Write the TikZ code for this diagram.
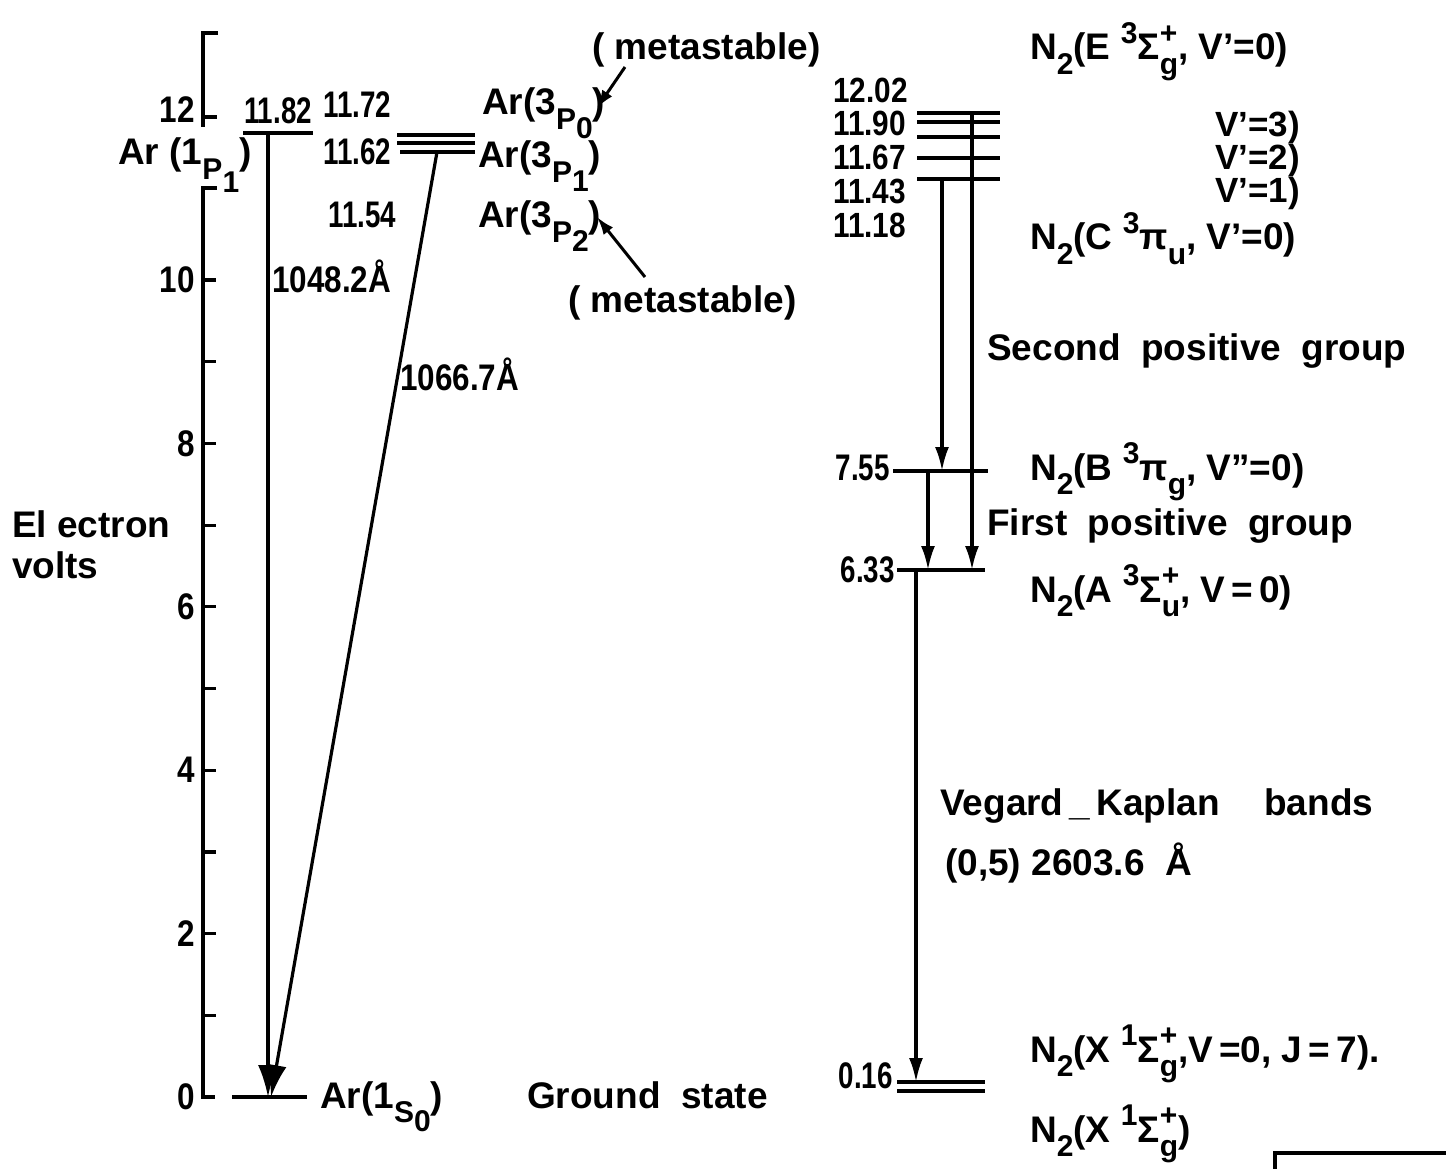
\documentclass[tikz,border=0pt]{standalone}
\usepackage{fontspec}
\setmainfont{Liberation Sans}
\newfontfamily\nf[FakeStretch=0.75]{Liberation Sans}
\newfontfamily\nfw[FakeStretch=0.85]{Liberation Sans}
\usetikzlibrary{arrows.meta}
\newcommand{\sz}{\fontsize{37}{42}\selectfont}
\newcommand{\smz}{\fontsize{30}{32}\selectfont}
\newcommand{\stz}{\fontsize{35}{36}\selectfont}
\newcommand{\lo}[1]{\raisebox{-0.4em}{\smz #1}}
\newcommand{\hi}[1]{\raisebox{0.45em}{\smz #1}}
\newcommand{\hilo}[2]{\makebox[0pt][l]{\hi{#1}}\lo{#2}}
\tikzset{
  lvl/.style={line width=3.6pt},
  ax/.style={line width=3.2pt},
  trb/.style={line width=3.2pt, -{Latex[length=32pt,width=20pt]}},
  tr/.style={line width=3.2pt, -{Latex[length=24pt,width=14pt]}},
  tra/.style={line width=3pt, -{Latex[length=18pt,width=12pt]}},
  txt/.style={inner sep=0pt, font=\bfseries\sz},
  num/.style={inner sep=0pt, font=\nf\bfseries\sz},
  nums/.style={inner sep=0pt, font=\nfw\bfseries\stz},
  numw/.style={inner sep=0pt, font=\nfw\bfseries\sz},
}
\begin{document}
\begin{tikzpicture}[x=1pt,y=-1pt]
\useasboundingbox (0,0) rectangle (1446,1169);
% axis
\draw[ax] (218,33) -- (203,33) -- (203,127);
\draw[ax] (203,117) -- (217,117);
\draw[ax] (217,188) -- (203,188) -- (203,1097) -- (215,1097);
\foreach \v in {1,...,10} \draw[ax] (203,{1097-81.7*\v}) -- (216,{1097-81.7*\v});
\foreach \v/\n in {0/a0,2/a2,4/a4,6/a6,8/a8,10/a10}
  \node[numw, anchor=east] (\n) at (195,{1097-81.7*\v}) {\v};
\node[numw, anchor=east] (a12) at (195,110) {12};
\node[txt, anchor=base west] (ev1) at (12,537) {El ectron};
\node[txt, anchor=base west] (ev2) at (12,578) {volts};
% Ar levels
\coordinate (p1l) at (243,133); \coordinate (p1r) at (313,133);
\draw[lvl] (p1l) -- (p1r);
\coordinate (g0l) at (232,1097); \coordinate (g0r) at (307,1097);
\draw[lvl] (g0l) -- (g0r);
\draw[lvl] (397,135) -- (475,135);
\draw[lvl] (397,143) -- (475,143);
\draw[lvl] (400,152) -- (475,152);
\coordinate (p1s) at (268,133); \coordinate (g0a) at (268,1097);
\coordinate (p3s) at (437,152); \coordinate (g0b) at (271,1097);
\draw[trb] (p1s) -- (g0a);
\draw[trb] (p3s) -- (g0b);
\node[txt, anchor=base west] (ar1p) at (118,165) {Ar (1\lo{P}\raisebox{-0.75em}{\smz 1})};
\node[num, anchor=base] (v1182) at (278,124) {11.82};
\node[num, anchor=base west] (v1172) at (323,118) {11.72};
\node[num, anchor=base west] (v1162) at (323,165) {11.62};
\node[num, anchor=base west] (v1154) at (328,228) {11.54};
\node[numw, anchor=base west] (w1) at (272,292) {1048.2Å};
\node[numw, anchor=base west] (w2) at (400,390) {1066.7Å};
\node[txt, anchor=base west] (ar3p0) at (482,115) {Ar(3\lo{P\raisebox{-0.3em}{0}})};
\node[txt, anchor=base west] (ar3p1) at (478,168) {Ar(3\lo{P\raisebox{-0.3em}{1}})};
\node[txt, anchor=base west] (ar3p2) at (478,228) {Ar(3\lo{P\raisebox{-0.3em}{2}})};
\node[txt, anchor=base west] (ms1) at (592,60) {( metastable)};
\node[txt, anchor=base west] (ms2) at (568,312) {( metastable)};
\coordinate (m1t) at (625,67); \coordinate (m1h) at (597,108);
\coordinate (m2t) at (645,277); \coordinate (m2h) at (597,217);
\draw[tra] (m1t) -- (m1h);
\draw[tra] (m2t) -- (m2h);
\node[txt, anchor=base west] (ar1s) at (320,1108) {Ar(1\lo{S\raisebox{-0.3em}{0}})};
\node[txt, anchor=base west] (gs) at (527,1108) {Ground\ \ state};
% N2 levels
\foreach \y in {113,122,137,158,179} \draw[lvl] (917,\y) -- (1000,\y);
\coordinate (b1) at (893,471); \coordinate (b2) at (988,471);
\draw[lvl] (b1) -- (b2);
\coordinate (c1) at (897,570); \coordinate (c2) at (985,570);
\draw[lvl] (c1) -- (c2);
\draw[lvl] (897,1082) -- (985,1082);
\draw[lvl] (897,1091) -- (985,1091);
\coordinate (e1) at (972,113); \coordinate (e1b) at (972,570);
\coordinate (e2) at (942,179); \coordinate (e2b) at (942,471);
\coordinate (e3) at (928,471); \coordinate (e3b) at (928,570);
\coordinate (e4) at (916,570); \coordinate (e4b) at (916,1082);
\draw[tr] (e1) -- (e1b);
\draw[tr] (e2) -- (e2b);
\draw[tr] (e3) -- (e3b);
\draw[tr] (e4) -- (e4b);
\node[nums, anchor=base west] (n1) at (833,103) {12.02};
\node[nums, anchor=base west] (n2) at (833,136) {11.90};
\node[nums, anchor=base west] (n3) at (833,170) {11.67};
\node[nums, anchor=base west] (n4) at (833,204) {11.43};
\node[nums, anchor=base west] (n5) at (833,238) {11.18};
\node[num, anchor=base east] (n755) at (890,480) {7.55};
\node[num, anchor=base east] (n633) at (895,582) {6.33};
\node[num, anchor=base east] (n016) at (893,1088) {0.16};
\node[txt, anchor=base west] (lE) at (1030,60) {N\lo{2}(E \hi{3}Σ\hilo{+}{g}, V'=0)};
\node[txt, anchor=base east, font=\bfseries\stz] (lv3) at (1300,137) {V'=3)};
\node[txt, anchor=base east, font=\bfseries\stz] (lv2) at (1300,170) {V'=2)};
\node[txt, anchor=base east, font=\bfseries\stz] (lv1) at (1300,203) {V'=1)};
\node[txt, anchor=base west] (lC) at (1030,250) {N\lo{2}(C \hi{3}π\lo{u}, V'=0)};
\node[txt, anchor=base west] (spg) at (987,360) {Second\ \ positive\ \ group};
\node[txt, anchor=base west] (lB) at (1030,480) {N\lo{2}(B \hi{3}π\lo{g}, V''=0)};
\node[txt, anchor=base west] (fpg) at (987,535) {First\ \ positive\ \ group};
\node[txt, anchor=base west] (lA) at (1030,602) {N\lo{2}(A \hi{3}Σ\hilo{+}{u}, V\,=\,0)};
\node[txt, anchor=base west] (vk) at (940,815) {Vegard\,\_\,Kaplan\hspace{1.2em}bands};
\node[txt, anchor=base west] (vk2) at (945,875) {(0,5) 2603.6\ \ Å};
\node[txt, anchor=base west] (lX1) at (1030,1062) {N\lo{2}(X \hi{1}Σ\hilo{+}{g},V\,=0, J\,=\,7).};
\node[txt, anchor=base west] (lX2) at (1030,1142) {N\lo{2}(X \hi{1}Σ\hilo{+}{g})};
\draw[ax] (1275,1169) -- (1275,1153) -- (1446,1153);
\end{tikzpicture}
\end{document}
